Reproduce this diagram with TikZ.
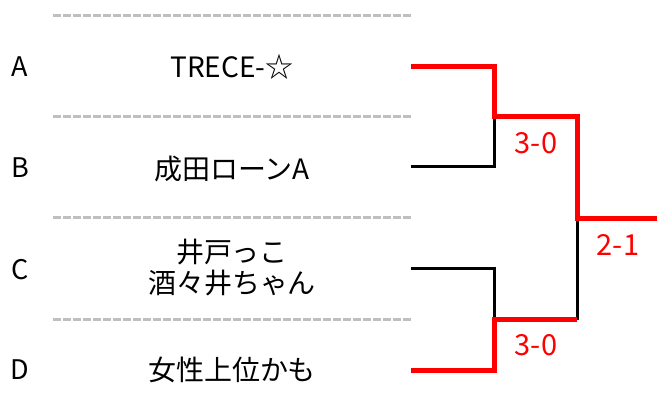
\documentclass[tikz,border=0pt]{standalone}
\usepackage{fontspec}
\setmainfont{Noto Sans CJK JP}
\usetikzlibrary{positioning}
\definecolor{sepgray}{rgb}{0.75,0.75,0.75}
\tikzset{
  seed/.style={font=\fontsize{27}{31}\selectfont, inner sep=0pt},
  team/.style={font=\fontsize{28}{31}\selectfont, align=center, inner sep=0pt},
  score/.style={font=\fontsize{29}{31}\selectfont, text=red, inner sep=0pt},
  sepline/.style={draw=sepgray, line width=3pt, dash pattern=on 7.5pt off 2.5pt},
  win/.style={draw=red, line width=5pt},
  lose/.style={draw=black, line width=3pt},
}
\begin{document}
\begin{tikzpicture}[x=1pt,y=-1pt]
    \useasboundingbox (0,0) rectangle (657,417);

    % separators
    \foreach \y in {16,117,218,320}
      \draw[sepline] (53,\y) -- (412,\y);

    \node[seed] (la) at (20,67) {A};
    \node[seed] (lb) at (20,168) {B};
    \node[seed] (lc) at (20,270) {C};
    \node[seed] (ld) at (20,370) {D};

    \node[team] (ta) at (232,67) {TRECE-☆};
    \node[team] (tb) at (232,169) {成田ローンA};
    \node[team] (tc) at (232,268) {井戸っこ\\酒々井ちゃん};
    \node[team] (td) at (232,370) {女性上位かも};

    \coordinate (ea) at (411,67);
    \coordinate (eb) at (411,167);
    \coordinate (ec) at (411,269);
    \coordinate (ed) at (411,370);
    \coordinate (semi1) at (494,117);
    \coordinate (semi2) at (494,320);
    \coordinate (fin) at (577,219);
    \coordinate (champ) at (657,219);

    \begin{scope}[every path/.style=lose]
      \path (eb) -| (semi1);
      \path (ec) -| (semi2);
      \path (semi2 -| fin) -- (fin);
    \end{scope}
    \begin{scope}[every path/.style=win]
      \path (ea) -| (semi1) -| (fin) -- (champ);
      \path (ed) -| (semi2) -- (semi2 -| fin);
    \end{scope}

    \node[score] (s1) at (536,143) {3-0};
    \node[score] (s2) at (536,345) {3-0};
    \node[score] (s3) at (618,245) {2-1};
\end{tikzpicture}
\end{document}
